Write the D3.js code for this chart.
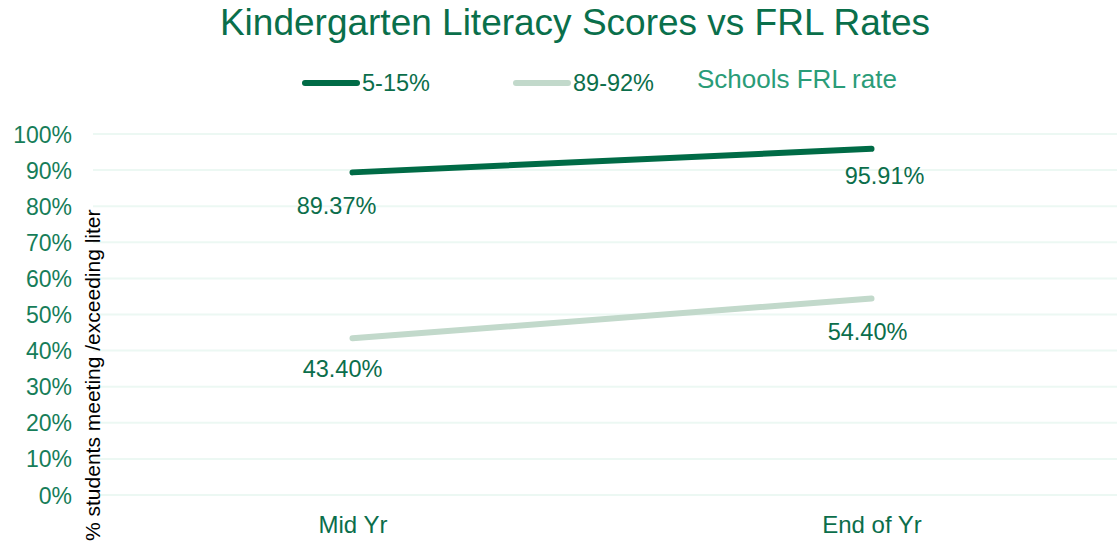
<!DOCTYPE html>
<html>
<head>
<meta charset="utf-8">
<script src="https://cdn.jsdelivr.net/npm/d3@7"></script>
<style>
	body { margin: 0; background: #fff; }
	svg text { font-family: "Liberation Sans", Arial, sans-serif; }
</style>
</head>
<body>
<div id="chart"></div>
<script>
// dati del grafico
var categories = ["Mid Yr", "End of Yr"];
var series_names = ["5-15%", "89-92%"];
var series_low = [89.37, 95.91];
var series_high = [43.40, 54.40];
var y_ticks = [0, 10, 20, 30, 40, 50, 60, 70, 80, 90, 100];

var width = 1117;
var height = 546;

var svg = d3.select("#chart").append("svg")
	.attr("width", width)
	.attr("height", height);

var x = d3.scalePoint()
	.domain(categories)
	.range([93, 1131])
	.padding(0.5);

var y = d3.scaleLinear()
	.domain([0, 100])
	.range([495, 134]);

// griglia
svg.append("g").selectAll("line")
	.data(y_ticks)
	.enter()
	.append("line")
	.attr("x1", 93)
	.attr("x2", width)
	.attr("y1", function(d) { return y(d); })
	.attr("y2", function(d) { return y(d); })
	.style("stroke", "#ecf8f3")
	.style("stroke-width", 2);

// asse y
var yAxis = svg.append("g")
	.attr("transform", "translate(80,0)")
	.call(d3.axisLeft(y).tickValues(y_ticks).tickFormat(function(d) { return d + "%"; }).tickSize(0).tickPadding(8));
yAxis.select(".domain").remove();
yAxis.selectAll("text")
	.style("font-size", "23px")
	.style("fill", "#167d59")
	.attr("dy", "0.35em");

// asse x
var xAxis = svg.append("g")
	.attr("transform", "translate(0,533)")
	.call(d3.axisBottom(x).tickSize(0).tickPadding(0));
xAxis.select(".domain").remove();
xAxis.selectAll("text")
	.attr("dy", 0)
	.style("font-size", "24px")
	.style("fill", "#0b6e4b");

// titolo asse y
svg.append("text")
	.attr("transform", "translate(100,541) rotate(-90)")
	.attr("text-anchor", "start")
	.style("font-size", "21px")
	.style("fill", "#000")
	.text("% students meeting /exceeding liter");

// titolo
svg.append("text")
	.attr("x", 575)
	.attr("y", 35)
	.attr("text-anchor", "middle")
	.style("font-size", "37px")
	.style("fill", "#0a6f4b")
	.text("Kindergarten Literacy Scores vs FRL Rates");

var series = [
	{name: series_names[0], values: series_low, color: "#006b46", dx: [-16, 13], dy: [42, 35]},
	{name: series_names[1], values: series_high, color: "#c2d9cb", dx: [-10, -4], dy: [39, 41]}
];

var line = d3.line()
	.x(function(d, i) { return x(categories[i]); })
	.y(function(d) { return y(d); });

series.forEach(function(s) {
	svg.append("path")
		.datum(s.values)
		.attr("d", line)
		.style("fill", "none")
		.style("stroke", s.color)
		.style("stroke-width", 6)
		.style("stroke-linecap", "round");

	svg.append("g").selectAll("text")
		.data(s.values)
		.enter()
		.append("text")
		.attr("x", function(d, i) { return x(categories[i]) + s.dx[i]; })
		.attr("y", function(d, i) { return y(d) + s.dy[i]; })
		.attr("text-anchor", "middle")
		.style("font-size", "23.5px")
		.style("fill", "#0b6e4b")
		.text(function(d) { return d.toFixed(2) + "%"; });
});

// legenda
var legend_x = [305, 516];
series.forEach(function(s, i) {
	svg.append("line")
		.attr("x1", legend_x[i])
		.attr("x2", legend_x[i] + 52)
		.attr("y1", 83)
		.attr("y2", 83)
		.style("stroke", s.color)
		.style("stroke-width", 6)
		.style("stroke-linecap", "round");
	svg.append("text")
		.attr("x", legend_x[i] + 57)
		.attr("y", 91)
		.style("font-size", "23.5px")
		.style("fill", "#0b6e4b")
		.text(s.name);
});
svg.append("text")
	.attr("x", 697)
	.attr("y", 88)
	.style("font-size", "26px")
	.style("fill", "#2a9c78")
	.text("Schools FRL rate");
</script>
</body>
</html>
